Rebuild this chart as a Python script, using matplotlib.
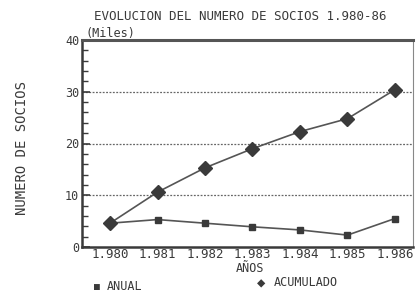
import matplotlib
matplotlib.use("Agg")
import matplotlib.pyplot as plt
from matplotlib.ticker import MultipleLocator

years = [1980, 1981, 1982, 1983, 1984, 1985, 1986]
year_labels = ["1.980", "1.981", "1.982", "1.983", "1.984", "1.985", "1.986"]
anual = [4.6, 5.3, 4.6, 3.9, 3.3, 2.3, 5.5]
acumulado = [4.6, 10.6, 15.3, 19.0, 22.3, 24.8, 30.4]
y_ticks = [0, 10, 20, 30, 40]

plt.rcParams['font.family'] = ['DejaVu Sans Mono', 'DejaVu Sans']
ink = '#3a3a3a'

fig = plt.figure(figsize=(4.17, 2.94), dpi=100)
W, H = 417, 294
ax = fig.add_axes([82 / W, 1 - 247 / H, (413 - 82) / W, (247 - 40) / H])

ax.plot(years, anual, color='#555555', lw=1.2, marker='s', ms=5,
        mfc=ink, mec=ink, zorder=3)
ax.plot(years, acumulado, color='#555555', lw=1.2, marker='D', ms=7,
        mfc=ink, mec=ink, zorder=3)

ax.set_xlim(1979.41, 1986.38)
ax.set_ylim(0, 40)
ax.set_xticks(years)
ax.set_xticklabels(year_labels, fontsize=9, color=ink)
ax.set_yticks(y_ticks)
ax.set_yticklabels([str(v) for v in y_ticks], fontsize=8.5, color=ink)
ax.yaxis.set_minor_locator(MultipleLocator(2))
ax.tick_params(axis='y', which='major', direction='in', length=6, width=1.2, color=ink, pad=2)
ax.tick_params(axis='y', which='minor', direction='in', length=4, width=1, color=ink)
ax.tick_params(axis='x', length=0, pad=1)

for v in [10, 20, 30]:
    ax.axhline(v, color='#666666', lw=0.9, ls=(0, (1.5, 1.2)), zorder=1)

for s in ['left', 'bottom']:
    ax.spines[s].set_linewidth(1.8)
    ax.spines[s].set_color(ink)
ax.spines['top'].set_linewidth(2.2)
ax.spines['top'].set_color('#555555')
ax.spines['right'].set_linewidth(0.8)
ax.spines['right'].set_color('#888888')

fig.text(240 / W, 1 - 16 / H, "EVOLUCION DEL NUMERO DE SOCIOS 1.980-86",
         ha='center', va='center', fontsize=9, color=ink)
fig.text(86 / W, 1 - 33 / H, "(Miles)", ha='left', va='center', fontsize=8.5, color=ink)
fig.text(22 / W, 1 - 148 / H, "NUMERO DE SOCIOS", ha='center', va='center',
         rotation=90, fontsize=10, color=ink)
fig.text(250 / W, 1 - 268 / H, "AÑOS", ha='center', va='center', fontsize=8.5, color=ink)

fig.text(97 / W, 1 - 287 / H, "■", ha='center', va='center', fontsize=7, color=ink)
fig.text(107 / W, 1 - 287 / H, "ANUAL", ha='left', va='center', fontsize=8.5, color=ink)
fig.text(261 / W, 1 - 283 / H, "◆", ha='center', va='center', fontsize=10, color=ink)
fig.text(274 / W, 1 - 283 / H, "ACUMULADO", ha='left', va='center', fontsize=8.5, color=ink)

fig.savefig("out.png", dpi=100, facecolor='white')
